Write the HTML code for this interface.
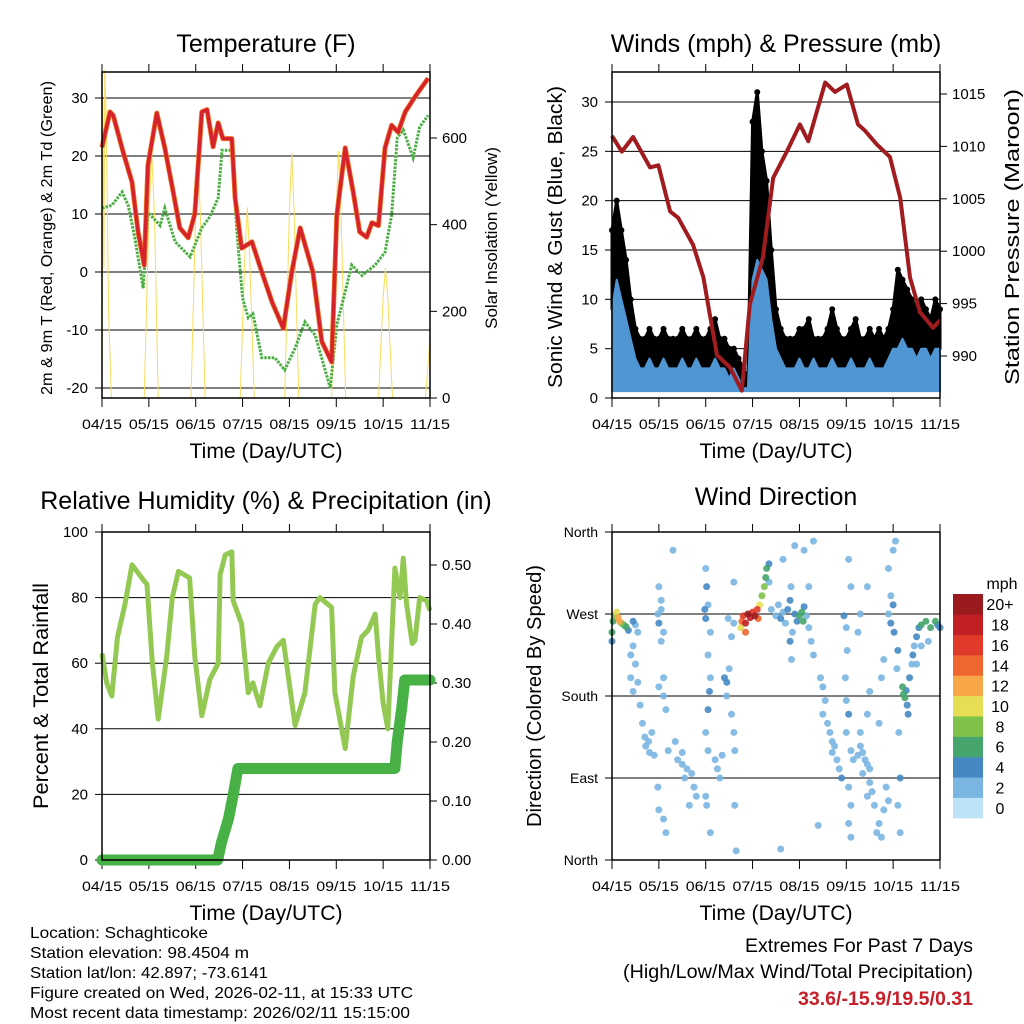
<!DOCTYPE html>
<html><head><meta charset="utf-8"><style>
body{margin:0;background:#fff}
svg{display:block;font-family:"Liberation Sans",sans-serif}
</style></head><body>
<svg id="s" width="1024" height="1024" viewBox="0 0 1024 1024">
<g id="g"></g>
</svg>
<script>
// ---------- DATA ----------
const xTickLabels=["04/15","05/15","06/15","07/15","08/15","09/15","10/15","11/15"];
const tempDays=[0,0.17,0.24,0.45,0.64,0.77,0.9,0.98,1.17,1.34,1.52,1.66,1.84,1.98,2.13,2.24,2.37,2.48,2.58,2.77,2.84,2.98,3.2,3.41,3.63,3.87,4.05,4.23,4.5,4.69,4.9,5.01,5.19,5.36,5.5,5.65,5.76,5.9,6.04,6.18,6.32,6.47,6.68,6.96];
const tempVals=[21.5,27.6,27,20.7,15.5,6.9,1.2,18.4,27.4,21.4,13.8,7.6,5.9,10,27.6,28,21.6,25.7,23,23,12.8,4.1,5.2,0,-5.2,-9.7,0,7.6,0,-12,-15.5,9.8,21.4,13.8,6.9,6,8.5,8,21.4,25.3,24.1,27.6,30.2,33.4];
const dewDays=[0,0.21,0.43,0.56,0.7,0.88,0.98,1.13,1.24,1.34,1.56,1.88,2.13,2.3,2.48,2.56,2.77,2.88,3.0,3.12,3.22,3.41,3.69,3.9,4.12,4.33,4.55,4.87,5.01,5.19,5.33,5.55,5.83,6.04,6.18,6.3,6.43,6.64,6.78,6.96];
const dewVals=[11,11.5,13.8,11.5,5.9,-2.8,10.3,9,8,11,5.2,2.6,7.6,9.5,12.8,21,21,6.9,-4.5,-7.9,-7.2,-14.8,-14.8,-16.9,-13.1,-8.6,-10.9,-20,-9.1,-3.4,1.2,-0.6,1.2,3.4,9.8,23.1,24.5,19.7,25,27];
const solarDays=[0,0.02,0.04,0.06,0.09,0.14,0.2, 0.9,1.0,1.06,1.12,1.2, 1.9,2.0,2.05,2.1,2.2, 2.95,3.05,3.1,3.15,3.25, 3.9,4.0,4.05,4.1,4.2, 4.9,5.0,5.05,5.1,5.2, 5.9,6.0,6.05,6.1,6.2, 6.9,6.97,7.0];
const solarVals=[0,690,300,758,650,200,0, 0,420,567,420,0, 0,430,550,420,0, 0,330,440,330,0, 0,430,565,430,0, 0,430,570,430,0, 0,230,300,230,0, 0,90,150];
const windVals=[9,12,10,8,6,4, 3,3,4,3,3,4,3,3,3,4,3,3,4,3,3,3,4,3,3,2,3,2, 1,1, 12,14,13,12,8,5,4, 3,3,3,4,3,3,4,3,3,3,4,3,3,3,4,3,3,3,4,3,3,3,4, 5, 5,6,5,5,4,5,5,4,5,5];
const gustVals=[17,20,17,14,10,7, 6,6,7,6,6,7,6,6,6,7,6,6,7,6,6,7,8,6,6,5,5,4, 3,2, 28,31,25,22,15,9,7, 6,6,6,7,7,8,6,6,6,7,9,7,6,6,7,8,6,6,7,6,7,6,7, 9, 13,12,11,10,9,10,9,8,10,9];
const presDays=[0,0.21,0.45,0.81,0.99,1.24,1.41,1.73,1.95,2.09,2.24,2.52,2.77,2.94,3.22,3.44,3.73,4.01,4.19,4.55,4.76,5.01,5.25,5.4,5.65,5.93,6.15,6.36,6.57,6.85,7.0];
const presVals=[1011,1009.5,1010.9,1008,1008.2,1003.8,1003.2,1000.6,997.5,993.9,990.1,988.9,986.7,994.9,999.4,1007,1009.5,1012.1,1010.5,1016.1,1015.2,1015.9,1012.1,1011.5,1010.2,1009,1005.1,997.5,994.2,992.7,993.4];
const rhDays=[0,0.1,0.21,0.33,0.49,0.64,0.85,0.96,1.07,1.2,1.38,1.5,1.63,1.87,1.98,2.13,2.3,2.48,2.52,2.63,2.77,2.8,2.98,3.12,3.22,3.37,3.55,3.73,3.87,4.12,4.33,4.55,4.65,4.9,4.97,5.19,5.36,5.54,5.68,5.83,5.9,6.0,6.1,6.25,6.36,6.43,6.5,6.62,6.68,6.78,6.93,7.0];
const rhVals=[63,54,50,68,78,90,86,84,61,43,62,80,88,86,62,44,55,60,87,93,94,79,72,51,54,47,60,65,67,41,51,78,80,77,51,34,56,68,70,75,62,48,40,89,80,92,78,66,67,80,79,76];
const prDays=[0,2.47,2.55,2.7,2.8,2.9,6.25,6.3,6.4,6.46,7.0];
const prVals=[0,0,0.03,0.07,0.11,0.155,0.155,0.2,0.26,0.305,0.305];
const dirDays=[0,0,0.02,0.06,0.1,0.13,0.16,0.2,0.25,0.3,0.35,0.45,0.5,0.55,0.45,0.4,0.5,0.4,0.45,0.55,0.6,0.65,0.7,0.72,0.78,0.85,0.9,0.8,0.98,1,1.05,1.1,1.05,1,1.05,1.1,1.1,1.15,1,0.98,1,1.1,1.15,1.2,1.3,1.35,1.4,1.5,1.6,1.55,1.7,1.75,1.8,1.65,1.5,1.98,2,2.05,2.02,2,2.1,2.05,2.1,2.08,2.05,2,2.05,2,2.02,2.1,2.2,2.25,2.3,2.35,2.4,2.45,2.5,2.45,2.55,2.6,2.62,2.55,2.6,2.48,2.6,2.62,2.65,2.75,2.77,2.8,2.85,2.9,2.95,3,3.05,3.1,3.12,2.85,3.15,3.2,3.25,3.28,3.3,3.35,3.35,3.4,3.5,3.55,3.6,3.65,3.7,3.75,3.8,3.82,3.9,3.95,3.85,3.8,3.83,4,4.05,4.08,4.1,4.15,4.2,4.25,4.3,4.2,3.65,3.9,4.1,4.3,3.6,4.4,4.45,4.5,4.55,4.5,4.6,4.65,4.7,4.75,4.7,4.8,4.85,4.9,4.95,5,5.02,4.98,5,5.05,5,5.05,5.1,5.05,5.1,5.05,5.1,5.1,5.15,5.25,5.3,5.35,5.4,5.45,5.5,5.35,5.5,5.55,5.6,5.45,5.3,5.45,5.5,5.25,5.3,5.45,5.7,5.65,5.75,5.8,5.85,5.9,5.7,5.75,5.8,5.9,5.95,6,6.02,5.95,5.9,6,6.05,6.1,6.08,6.12,6.15,6.1,6.15,6.2,6.22,6.25,6.28,6.3,6.32,6.35,6.4,6.42,6.45,6.5,6.55,6.6,6.7,6.8,6.9,6.95,7,6.6,6.75,6.5];
const dirVals=[250,240,262,268,272,266,262,260,258,256,252,262,258,250,235,225,215,200,185,195,170,150,135,125,130,140,115,118,270,260,275,250,285,300,240,200,180,165,190,80,55,45,30,120,340,130,110,105,100,90,95,80,70,60,118,275,265,280,300,320,250,225,200,185,165,140,120,70,60,30,110,100,90,115,200,195,210,180,160,140,120,245,260,265,305,60,10,255,262,268,260,270,266,272,268,275,265,250,280,290,300,310,320,325,305,275,268,280,265,272,260,275,285,300,270,262,250,240,220,268,272,262,278,268,255,240,225,300,330,345,340,350,12,38,200,190,175,160,150,140,130,125,118,110,100,90,268,255,230,200,175,160,140,80,60,40,25,330,300,120,110,115,125,118,110,105,100,95,85,75,60,70,140,160,185,250,270,300,40,30,25,55,80,65,150,200,220,270,260,280,250,290,320,340,350,230,210,140,90,60,30,190,182,178,186,170,160,200,215,225,235,245,255,258,262,255,262,258,255,235,240,215];
const dirSpds=[7,4,7,9,11,12,12,8,7,7,4,4,3,2,2,3,2,2,2,3,2,2,2,2,2,3,2,2,3,4,3,3,3,3,2,3,2,2,2,3,3,2,2,3,2,2,3,3,3,2,3,3,3,2,2,4,4,3,4,3,3,2,3,4,4,2,3,2,3,2,2,3,3,2,4,4,3,3,2,2,2,2,3,2,2,2,2,10,14,16,18,20,18,16,20,16,14,14,10,8,8,7,6,4,3,3,3,3,4,3,3,4,4,3,4,4,3,4,3,6,7,6,4,3,2,2,2,3,2,2,3,2,2,2,3,3,3,3,3,3,3,3,3,3,3,4,4,3,3,3,3,4,2,3,3,3,3,3,2,3,2,3,3,3,3,2,3,2,3,2,2,3,2,2,3,2,2,2,2,2,2,3,2,2,2,2,2,3,4,4,4,2,2,3,2,4,2,2,4,2,2,6,7,6,5,4,4,4,3,4,3,4,5,6,6,6,6,4,5,3,3,3];
const cbLabels=["0","2","4","6","8","10","12","14","16","18","20+"];
const cbColors=["#bde3f7","#7ab6e2","#4488c4","#45a56c","#7ec24a","#e6df55","#f7a648","#f06630","#e03a2a","#c11f24","#9b1a1e"];

// ---------- DRAW ----------
const NS="http://www.w3.org/2000/svg";const G=document.getElementById('g');
function el(t,a,p){const e=document.createElementNS(NS,t);for(const k in a)e.setAttribute(k,a[k]);(p||G).appendChild(e);return e;}
function txt(x,y,s,o){o=o||{};const e=el('text',{x:x,y:y,'font-size':o.fs||13,'text-anchor':o.anchor||'middle',fill:o.fill||'#000'});if(o.rot)e.setAttribute('transform','rotate(-90 '+x+' '+y+')');if(o.bold)e.setAttribute('font-weight','bold');if(o.tl){e.setAttribute('textLength',o.tl);e.setAttribute('lengthAdjust','spacingAndGlyphs');}e.textContent=s;return e;}
function lin(d0,d1,r0,r1){return v=>r0+(v-d0)*(r1-r0)/(d1-d0);}
function path(xs,ys,sx,sy){return xs.map((d,i)=>(i?'L':'M')+sx(d).toFixed(1)+','+sy(ys[i]).toFixed(1)).join('');}

const P=[{x0:102,x1:430,y0:72,y1:398},{x0:612,x1:940,y0:72,y1:398},{x0:102,x1:430,y0:532,y1:860},{x0:612,x1:940,y0:532,y1:860}];
function frame(p,name,title,ty){
  const sx=lin(0,7,p.x0,p.x1);
  xTickLabels.forEach((l,i)=>{const x=sx(i);
    el('line',{x1:x,x2:x,y1:p.y0-8,y2:p.y0,stroke:'#000','stroke-width':1});
    el('line',{x1:x,x2:x,y1:p.y1,y2:p.y1+9,stroke:'#000','stroke-width':1});
    const t=txt(x,p.y1+31,l,{fs:14,tl:40});});
  const at=txt((p.x0+p.x1)/2,p.y1+60,'Time (Day/UTC)',{fs:21,tl:153});
  
  const tt=txt((p.x0+p.x1)/2,ty,title,{fs:25});
  
  return sx;
}
function box(p){el('rect',{x:p.x0,y:p.y0,width:p.x1-p.x0,height:p.y1-p.y0,fill:'none',stroke:'#000','stroke-width':1.5});}
function grid(p,vals,sy,labels,side,fs){vals.forEach((v,i)=>{const y=sy(v);
  if(side==='L'){el('line',{x1:p.x0,x2:p.x1,y1:y,y2:y,stroke:'#000','stroke-width':1});el('line',{x1:p.x0-7,x2:p.x0,y1:y,y2:y,stroke:'#000'});txt(p.x0-14,y+5,labels[i],{fs:fs||15,anchor:'end'});}
  else{el('line',{x1:p.x1,x2:p.x1+7,y1:y,y2:y,stroke:'#000'});txt(p.x1+12,y+5,labels[i],{fs:fs||15,anchor:'start'});}});}

// Panel 1: Temperature
(function(){const p=P[0];const sx=frame(p,'temperature','Temperature (F)',52);
 const sy=lin(0,30,272,98);const ss=lin(0,600,398,138);
 grid(p,[-20,-10,0,10,20,30],sy,["-20","-10","0","10","20","30"],'L');
 grid(p,[0,200,400,600],ss,["0","200","400","600"],'R');
 let e=el('path',{d:path(solarDays,solarVals,sx,ss),fill:'none',stroke:'#f7dc5a','stroke-width':1});
 
 e=el('path',{d:path(dewDays,dewVals,sx,sy),fill:'none',stroke:'#4aae42','stroke-width':3,'stroke-dasharray':'2.5,1.2'});
 
 e=el('path',{d:path(tempDays,tempVals,sx,sy),fill:'none',stroke:'#f2792a','stroke-width':5,'stroke-linejoin':'round'});
 
 e=el('path',{d:path(tempDays,tempVals,sx,sy),fill:'none',stroke:'#d4232a','stroke-width':3.5,'stroke-linejoin':'round'});
 
 box(p);
 txt(52,238,'2m & 9m T (Red, Orange) & 2m Td (Green)',{fs:16,rot:1,tl:314});
 txt(497,238,'Solar Insolation (Yellow)',{fs:17,rot:1});
})();

// Panel 2: Winds
(function(){const p=P[1];const sx=frame(p,'winds','Winds (mph) & Pressure (mb)',52);
 const sy=lin(0,30,398,102);const sp=lin(990,1015,356,94);
 grid(p,[0,5,10,15,20,25,30],sy,["0","5","10","15","20","25","30"],'L');
 grid(p,[990,995,1000,1005,1010,1015],sp,["990","995","1000","1005","1010","1015"],'R');
 const n=windVals.length;
 let top=gustVals.map((v,i)=>(i?'L':'M')+sx(i*0.1).toFixed(1)+','+sy(v).toFixed(1)).join('');
 let bot='';for(let i=n-1;i>=0;i--)bot+='L'+sx(i*0.1).toFixed(1)+','+sy(windVals[i]).toFixed(1);
 let e=el('path',{d:top+bot+'Z',fill:'#000',stroke:'#000','stroke-width':3,'stroke-linejoin':'round'});
 
 const gg=document.createElementNS(NS,'g');G.appendChild(gg);
 
 gustVals.forEach((v,i)=>{el('circle',{cx:sx(i*0.1),cy:sy(v),r:3,fill:'#000'},gg);});
 let wt=windVals.map((v,i)=>(i?'L':'M')+sx(i*0.1).toFixed(1)+','+sy(v).toFixed(1)).join('');
 e=el('path',{d:wt+'L'+sx(7)+','+sy(0.7)+'L'+sx(0)+','+sy(0.7)+'Z',fill:'#4f96d2',stroke:'#4f96d2','stroke-width':2,'stroke-linejoin':'round'});
 
 e=el('path',{d:path(presDays,presVals,sx,sp),fill:'none',stroke:'#a01c1f','stroke-width':4,'stroke-linejoin':'round'});
 
 box(p);
 txt(562,237,'Sonic Wind & Gust (Blue, Black)',{fs:20,rot:1,tl:302});
 txt(1019,237,'Station Pressure (Maroon)',{fs:20,rot:1,tl:296});
})();

// Panel 3: RH
(function(){const p=P[2];const sx=frame(p,'humidity','Relative Humidity (%) & Precipitation (in)',509);
 const sy=lin(0,100,860,532);const sr=lin(0,0.5,860,565);
 grid(p,[0,20,40,60,80,100],sy,["0","20","40","60","80","100"],'L');
 grid(p,[0,0.1,0.2,0.3,0.4,0.5],sr,["0.00","0.10","0.20","0.30","0.40","0.50"],'R');
 let e=el('path',{d:path(rhDays,rhVals,sx,sy),fill:'none',stroke:'#93c952','stroke-width':5,'stroke-linejoin':'round'});
 
 e=el('path',{d:path(prDays,prVals,sx,sr),fill:'none',stroke:'#47b146','stroke-width':11,'stroke-linejoin':'round','stroke-linecap':'round'});
 
 box(p);
 txt(48,696,'Percent & Total Rainfall',{fs:21,rot:1,tl:226});
})();

// Panel 4: Wind direction
(function(){const p=P[3];const sx=frame(p,'wind-direction','Wind Direction',505);
 const sy=lin(0,360,860,532);
 grid(p,[0,90,180,270,360],sy,["North","East","South","West","North"],'L',14);
 const gd=document.createElementNS(NS,'g');G.appendChild(gd);
 
 const order=dirDays.map((d,i)=>i).sort((a,b)=>dirSpds[a]-dirSpds[b]);
 order.forEach(i=>{const c=cbColors[Math.min(10,Math.floor(dirSpds[i]/2))];
   el('circle',{cx:sx(dirDays[i]),cy:sy(dirVals[i]),r:3.5,fill:c,'fill-opacity':0.9},gd);});
 box(p);
 txt(541,696,'Direction (Colored By Speed)',{fs:20,rot:1,tl:262});
 const cb=document.createElementNS(NS,'g');G.appendChild(cb);
 
 const h=224/11;
 cbColors.forEach((c,i)=>{const y=818-(i+1)*h;el('rect',{x:953,y:y,width:30,height:h+0.3,fill:c},cb);
   txt(1000,y+h/2+6,cbLabels[i],{fs:16});});
 txt(1002,589,'mph',{fs:16});
})();

// Footer
const foot=["Location: Schaghticoke","Station elevation: 98.4504 m","Station lat/lon: 42.897; -73.6141","Figure created on Wed, 2026-02-11, at 15:33 UTC","Most recent data timestamp: 2026/02/11 15:15:00"];
const footW=[178,219,238,383,380];
foot.forEach((s,i)=>{
 const t=txt(30,938+i*20,s,{fs:16,anchor:'start',tl:footW[i]});});
let t=txt(973,952,'Extremes For Past 7 Days',{fs:19,anchor:'end',tl:228});
t=txt(973,978,'(High/Low/Max Wind/Total Precipitation)',{fs:19,anchor:'end',tl:350});
t=txt(973,1005,'33.6/-15.9/19.5/0.31',{fs:19,anchor:'end',fill:'#c8202a',bold:1,tl:175});
</script>
</body></html>
